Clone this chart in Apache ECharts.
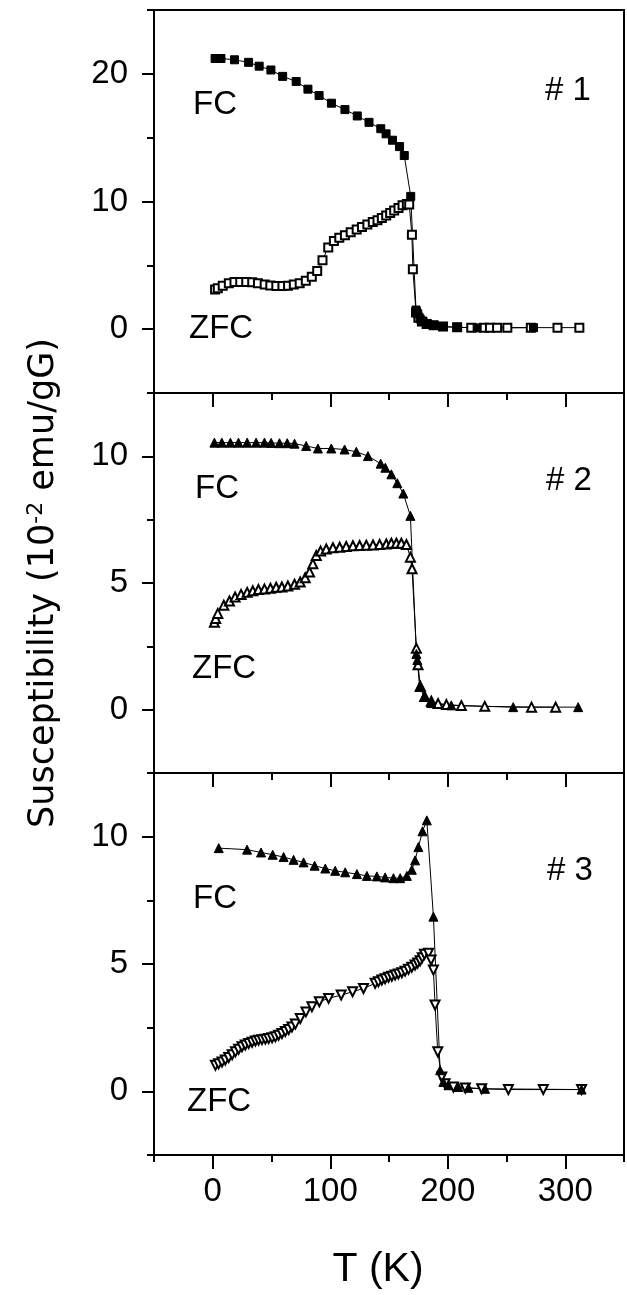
<!DOCTYPE html>
<html>
<head>
<meta charset="utf-8">
<script src="https://cdn.jsdelivr.net/npm/echarts@6/dist/echarts.min.js"></script>
<style>
html, body { margin: 0; padding: 0; background: #fff; }
#chart { width: 627px; height: 1295px; }
</style>
</head>
<body>
<div id="chart"></div>
<script>
// ---- data (T in K, susceptibility in 1e-2 emu/gG) ----
// sample #1
var s1FcT   = [2, 4, 7, 18.5, 30.5, 39.5, 49.5, 59.5, 71, 81, 90.5, 101, 112.5, 123, 133, 143, 147.5, 153, 159, 163, 168.5, 173, 174.5, 176.5, 179, 183, 188, 196, 208, 225, 273];
var s1FcChi = [21.2, 21.2, 21.2, 21.1, 20.9, 20.6, 20.3, 19.8, 19.4, 18.8, 18.3, 17.7, 17.2, 16.7, 16.2, 15.7, 15.3, 14.8, 14.3, 13.6, 10.4, 1.5, 1.2, 0.8, 0.6, 0.4, 0.3, 0.2, 0.15, 0.1, 0.12];
var s1ZfcT   = [2, 4.3, 8.5, 13.7, 18.5, 23.4, 28.5, 33.6, 38.5, 44.2, 49, 54.1, 59.3, 64.1, 69, 74, 79.2, 84.3, 88.9, 93.4, 98.3, 103.1, 107.7, 112.5, 117.4, 122.5, 127, 131.6, 136.2, 140.2, 143.9, 147.6, 151, 154.4, 158.1, 161.5, 165.2, 167.2, 169.5, 170.3, 173, 175, 178, 182, 188, 196, 208, 220, 230.8, 235.9, 242, 250.7, 270.7, 293.4, 312];
var s1ZfcChi = [3.1, 3.2, 3.4, 3.6, 3.7, 3.7, 3.7, 3.67, 3.6, 3.5, 3.43, 3.38, 3.38, 3.4, 3.5, 3.6, 3.8, 4.1, 4.55, 5.4, 6.4, 6.9, 7.17, 7.36, 7.6, 7.8, 8.0, 8.2, 8.4, 8.53, 8.7, 8.9, 9.1, 9.3, 9.5, 9.7, 9.8, 9.76, 7.4, 4.7, 1.3, 0.9, 0.6, 0.4, 0.3, 0.2, 0.15, 0.12, 0.12, 0.12, 0.12, 0.12, 0.12, 0.12, 0.12];

// sample #2
var s2FcT   = [1.4, 7.7, 15, 21.9, 29.3, 36.9, 44, 49.7, 56.8, 63.4, 69.6, 79.5, 89.5, 100.9, 112.2, 122.2, 132.1, 142.9, 146.9, 152, 157.1, 162.2, 168.2, 173.3, 174.1, 176, 180, 186, 203, 255.7, 311];
var s2FcChi = [10.54, 10.54, 10.54, 10.54, 10.54, 10.54, 10.54, 10.53, 10.52, 10.52, 10.5, 10.41, 10.31, 10.31, 10.27, 10.18, 10.01, 9.71, 9.55, 9.29, 8.94, 8.53, 7.65, 2.2, 1.96, 0.9, 0.5, 0.26, 0.17, 0.1, 0.1];
var s2ZfcT   = [1.4, 2.5, 4.3, 9.4, 14.2, 19, 24.1, 29.3, 34.1, 38.9, 44, 49.1, 54, 58.8, 63.9, 69.6, 74.4, 78.7, 82.4, 85.2, 88.1, 91.8, 96.6, 102.3, 108, 113.6, 119.3, 125, 130.7, 136.4, 142, 147.7, 152, 156.3, 160.5, 164.8, 168.2, 169.6, 173.3, 174.7, 176.7, 180.4, 186, 191.8, 198.9, 211.6, 231.5, 271.3, 291.8];
var s2ZfcChi = [3.45, 3.6, 3.8, 4.12, 4.29, 4.45, 4.55, 4.63, 4.69, 4.74, 4.76, 4.79, 4.83, 4.84, 4.88, 4.95, 5.04, 5.21, 5.43, 5.76, 6.09, 6.26, 6.34, 6.39, 6.41, 6.44, 6.47, 6.48, 6.49, 6.5, 6.52, 6.54, 6.57, 6.57, 6.57, 6.52, 6.02, 5.56, 2.42, 1.77, 0.92, 0.52, 0.33, 0.24, 0.2, 0.16, 0.13, 0.1, 0.1];

// sample #3
var s3FcT   = [5.1, 29.2, 41.1, 51, 60.3, 68.8, 77.3, 86.7, 95.8, 104.2, 112.7, 122.7, 131.2, 139.7, 146.7, 153.8, 159.5, 165.2, 169.4, 172.2, 175, 178.5, 182.2, 187.8, 193.5, 196.3, 200.6, 209, 217.6, 231.7, 313.9];
var s3FcChi = [9.55, 9.49, 9.38, 9.29, 9.2, 9.09, 8.99, 8.86, 8.75, 8.66, 8.6, 8.53, 8.46, 8.44, 8.4, 8.37, 8.37, 8.46, 8.7, 9.07, 9.59, 10.21, 10.64, 6.86, 0.83, 0.37, 0.24, 0.17, 0.14, 0.1, 0.07];
var s3ZfcT   = [2.3, 5, 7.9, 10.7, 13.6, 16.5, 19.3, 22, 24.9, 27.7, 30.6, 33.5, 36.3, 39, 41.9, 44.8, 47.6, 50.5, 53.3, 56, 58.9, 61.8, 64.6, 67.4, 70.3, 74.5, 79.3, 84.4, 90.7, 98.6, 109.3, 119, 128.3, 138.2, 141, 143.9, 146.7, 149.6, 152.4, 155.2, 158, 160.9, 163.7, 166.6, 169.4, 172.2, 174.4, 176.5, 178.3, 180.2, 183.6, 185.8, 187.8, 189.2, 191.5, 194.9, 197.7, 204.8, 215, 228.9, 251.6, 281.3, 313.9];
var s3ZfcChi = [1.02, 1.08, 1.15, 1.23, 1.33, 1.44, 1.55, 1.65, 1.75, 1.82, 1.88, 1.93, 1.98, 2.01, 2.03, 2.05, 2.07, 2.1, 2.14, 2.2, 2.27, 2.35, 2.43, 2.53, 2.64, 2.86, 3.12, 3.32, 3.52, 3.65, 3.78, 3.91, 4.04, 4.24, 4.3, 4.37, 4.42, 4.48, 4.52, 4.57, 4.61, 4.66, 4.72, 4.79, 4.87, 4.96, 5.04, 5.13, 5.25, 5.38, 5.42, 5.16, 4.76, 3.39, 1.55, 0.56, 0.3, 0.17, 0.13, 0.1, 0.07, 0.07, 0.07];

// axis ticks
var xMajorTicks = [0, 100, 200, 300];
var xMinorTicks = [-50, 50, 150, 250, 350];
var y1MajorTicks = [0, 10, 20];
var y1MinorTicks = [-5, 5, 15, 25];
var y23MajorTicks = [0, 5, 10];
var y23MinorTicks = [-2.5, 2.5, 7.5, 12.5];

var chart = echarts.init(document.getElementById('chart'));

var FONT = 'Liberation Sans, Arial, sans-serif';
var grids = [
  { left: 154, top: 10,  width: 470, height: 383 },
  { left: 154, top: 393, width: 470, height: 380 },
  { left: 154, top: 773, width: 470, height: 382 }
];
grids.forEach(function (g) {
  g.show = true;
  g.borderColor = '#000';
  g.borderWidth = 2;
  g.backgroundColor = 'transparent';
});

var yRanges = [
  { min: -5, max: 25, interval: 5, major: y1MajorTicks, minor: y1MinorTicks },
  { min: -2.5, max: 12.5, interval: 2.5, major: y23MajorTicks, minor: y23MinorTicks },
  { min: -2.5, max: 12.5, interval: 2.5, major: y23MajorTicks, minor: y23MinorTicks }
];

var xAxes = [], yAxes = [];
for (var g = 0; g < 3; g++) {
  var last = g === 2;
  // major x
  xAxes.push({
    type: 'value', gridIndex: g, position: 'bottom', min: -50, max: 350, interval: 50,
    axisLine: { show: true, onZero: false, lineStyle: { color: '#000', width: 2 } },
    axisTick: { show: true, inside: false, length: 14, customValues: xMajorTicks, lineStyle: { color: '#000', width: 2 } },
    axisLabel: { show: last, customValues: xMajorTicks, margin: 20, color: '#000', fontSize: 33, fontFamily: FONT },
    splitLine: { show: false },
    name: last ? 'T (K)' : '',
    nameLocation: 'middle', nameGap: 94,
    nameTextStyle: { color: '#000', fontSize: 41, fontFamily: FONT, padding: [0, 22, 0, 0] }
  });
  // minor x
  xAxes.push({
    type: 'value', gridIndex: g, position: 'bottom', min: -50, max: 350, interval: 50,
    axisLine: { show: false, onZero: false },
    axisTick: { show: true, inside: false, length: 7, customValues: xMinorTicks, lineStyle: { color: '#000', width: 2 } },
    axisLabel: { show: false },
    splitLine: { show: false }
  });
  var r = yRanges[g];
  yAxes.push({
    type: 'value', gridIndex: g, position: 'left', min: r.min, max: r.max, interval: r.interval,
    axisLine: { show: true, onZero: false, lineStyle: { color: '#000', width: 2 } },
    axisTick: { show: true, inside: false, length: 12, customValues: r.major, lineStyle: { color: '#000', width: 2 } },
    axisLabel: { show: true, customValues: r.major, margin: 26, color: '#000', fontSize: 33, fontFamily: FONT },
    splitLine: { show: false },
    name: g === 1 ? '{a|Susceptibility (10}{s|-2}{a| emu/gG)}' : '',
    nameLocation: 'middle', nameGap: 92, nameRotate: 90,
    nameTextStyle: {
      rich: {
        a: { fontSize: 35, fontFamily: 'DejaVu Sans, sans-serif', color: '#000' },
        s: { fontSize: 22, fontFamily: 'DejaVu Sans, sans-serif', color: '#000', verticalAlign: 'top', padding: [0, 0, 15, 0] }
      }
    }
  });
  yAxes.push({
    type: 'value', gridIndex: g, position: 'left', min: r.min, max: r.max, interval: r.interval,
    axisLine: { show: false, onZero: false },
    axisTick: { show: true, inside: false, length: 7, customValues: r.minor, lineStyle: { color: '#000', width: 2 } },
    axisLabel: { show: false },
    splitLine: { show: false }
  });
}

function pairs(T, chi) {
  return T.map(function (t, i) { return [t, chi[i]]; });
}

function curve(name, g, T, chi, symbol, size, rot) {
  return {
    name: name, type: 'line',
    xAxisIndex: g * 2, yAxisIndex: g * 2,
    data: pairs(T, chi),
    symbol: symbol, symbolSize: size, symbolRotate: rot || 0,
    showAllSymbol: true,
    lineStyle: { color: '#000', width: 1 },
    itemStyle: { color: '#000', borderColor: '#000', borderWidth: 1 },
    emphasis: { disabled: true },
    animation: false
  };
}

var series = [
  curve('ZFC #1', 0, s1ZfcT, s1ZfcChi, 'emptyRect', 8),
  curve('FC #1', 0, s1FcT, s1FcChi, 'rect', 8),
  curve('ZFC #2', 1, s2ZfcT, s2ZfcChi, 'emptyTriangle', 9),
  curve('FC #2', 1, s2FcT, s2FcChi, 'triangle', 9),
  curve('ZFC #3', 2, s3ZfcT, s3ZfcChi, 'emptyTriangle', 9, 180),
  curve('FC #3', 2, s3FcT, s3FcChi, 'triangle', 9)
];

// panel annotations
function note(text, x, y) {
  return { type: 'text', left: x, top: y, style: { text: text, font: '33px ' + FONT, fill: '#000' } };
}
var graphics = [
  note('FC', 193, 88), note('ZFC', 189, 312), note('# 1', 545, 74),
  note('FC', 195, 472), note('ZFC', 192, 652), note('# 2', 546, 464),
  note('FC', 193, 882), note('ZFC', 187, 1085), note('# 3', 547, 854)
];

var option = {
  backgroundColor: '#fff',
  animation: false,
  grid: grids,
  xAxis: xAxes,
  yAxis: yAxes,
  series: series,
  graphic: graphics
};
chart.setOption(option);
</script>
</body>
</html>
